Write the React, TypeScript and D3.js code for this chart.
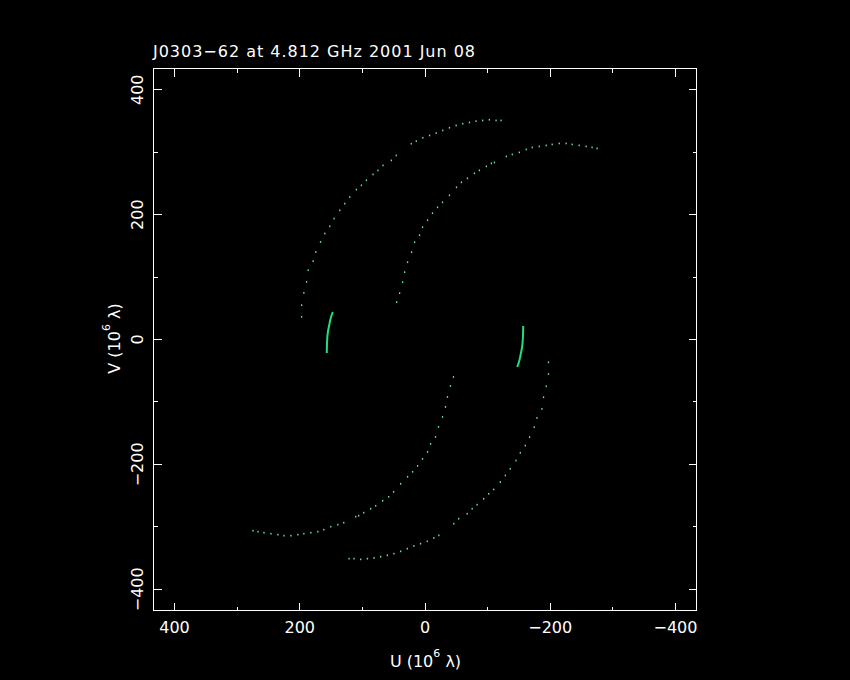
import React from 'react';
import * as d3 from 'd3';

const W = 850;
const H = 680;

// Title and axis labels
const TITLE = 'J0303\u221262 at 4.812 GHz 2001 Jun 08';
const X_LABEL_MAIN = 'U (10';
const Y_LABEL_MAIN = 'V (10';
const LABEL_SUP = '6';
const LABEL_TAIL = ' \u03bb)';

// Axis ticks (10^6 lambda)
const majorTicks = [-400, -200, 0, 200, 400];
const minorTicks = [-300, -100, 100, 300];

// Track A (outer arc, upper-left) : [u, v] in 10^6 lambda
const trackA: [number, number][] = [
  [197.1, 36.4], [197.1, 55.1], [193.5, 74.8], [189.2, 92.4], [186.6, 111.1],
  [178.7, 125.5], [174.4, 140.3], [166.9, 156.3], [160.0, 169.8], [152.1, 181.4],
  [145.2, 193.7], [136.1, 207.0], [128.2, 217.7], [120.2, 228.3], [109.6, 240.1],
  [101.6, 247.0], [93.6, 255.0], [83.1, 264.5], [75.2, 270.9], [67.2, 278.9],
  [53.8, 286.9], [45.9, 294.9], [22.0, 313.6], [14.0, 317.8], [3.5, 323.2],
  [-7.2, 326.9], [-17.8, 330.6], [-28.3, 334.9], [-39.0, 339.2], [-49.7, 342.9],
  [-60.2, 345.6], [-70.9, 347.7], [-81.5, 349.7], [-92.0, 350.9], [-102.7, 352.0],
  [-113.4, 350.9], [-121.3, 350.9],
];

// Track B (inner arc, upper-right)
const trackB: [number, number][] = [
  [45.4, 59.9], [40.6, 74.3], [35.8, 91.9], [32.6, 107.9], [27.9, 123.9],
  [21.5, 139.9], [16.7, 155.9], [8.8, 167.1], [4.0, 179.9], [-4.0, 191.1],
  [-11.9, 202.3], [-19.9, 211.8], [-27.9, 219.8], [-39.0, 231.0], [-50.2, 243.8],
  [-58.1, 251.8], [-67.7, 258.2], [-78.8, 266.2], [-86.8, 270.9], [-97.9, 277.3],
  [-105.9, 282.1], [-110.7, 283.7], [-129.8, 293.3], [-139.3, 296.5], [-150.5, 299.7],
  [-161.6, 304.5], [-171.2, 307.7], [-182.3, 309.3], [-193.5, 310.9], [-203.0, 312.5],
  [-214.2, 314.1], [-225.3, 314.1], [-234.9, 312.5], [-246.0, 310.9], [-257.2, 309.3],
  [-266.7, 307.7], [-274.7, 306.1],
];

// Short densely sampled arc (left)
const denseArc: [number, number][] = [
  [147.3, 44.0], [150.5, 34.4], [152.9, 23.2], [155.3, 10.4], [156.4, -4.0], [156.8, -21.6],
];

const conj = (pts: [number, number][]) => pts.map(([u, v]) => [-u, -v] as [number, number]);

const FRAME = { left: 153.5, right: 696.5, top: 68.5, bottom: 610.5 };

export default function App() {
  const x = d3.scaleLinear().domain([433.5, -433.5]).range([FRAME.left, FRAME.right]);
  const y = d3.scaleLinear().domain([434, -434]).range([FRAME.top, FRAME.bottom]);

  const dotTracks = [trackA, trackB, conj(trackA), conj(trackB)];
  const solidArcs = [denseArc, conj(denseArc)];
  const line = d3.line<[number, number]>().x((d) => x(d[0])).y((d) => y(d[1])).curve(d3.curveCatmullRom);

  const fmt = (v: number) => (v < 0 ? '\u2212' + Math.abs(v) : String(v));
  const font = "'DejaVu Sans', sans-serif";
  const MAJ = 8;
  const MIN = 4;

  const ticks: React.ReactNode[] = [];
  const addTicks = (vals: number[], len: number, key: string) => {
    vals.forEach((t) => {
      const px = x(t);
      const py = y(t);
      ticks.push(
        <g key={key + t}>
          <line x1={px} x2={px} y1={FRAME.bottom} y2={FRAME.bottom - len} />
          <line x1={px} x2={px} y1={FRAME.top} y2={FRAME.top + len} />
          <line y1={py} y2={py} x1={FRAME.left} x2={FRAME.left + len} />
          <line y1={py} y2={py} x1={FRAME.right} x2={FRAME.right - len} />
        </g>
      );
    });
  };
  addTicks(majorTicks, MAJ, 'M');
  addTicks(minorTicks, MIN, 'm');

  return (
    <svg width={W} height={H} style={{ position: 'absolute', left: 0, top: 0, display: 'block' }}>
      <rect x={0} y={0} width={W} height={H} fill="#000" />
      <g stroke="#fff" strokeWidth={1} fill="none" shapeRendering="crispEdges">
        <rect x={FRAME.left} y={FRAME.top} width={FRAME.right - FRAME.left} height={FRAME.bottom - FRAME.top} />
        {ticks}
      </g>
      <g fill="#fff" fontFamily={font} fontSize={16}>
        <text x={153} y={57} textLength={322}>{TITLE}</text>
        {majorTicks.map((t) => (
          <text key={'xl' + t} x={x(t)} y={633} textAnchor="middle">{fmt(t)}</text>
        ))}
        {majorTicks.map((t) => (
          <text key={'yl' + t} transform={`translate(142.5,${y(t)}) rotate(-90)`} textAnchor="middle">{fmt(t)}</text>
        ))}
        <text x={425.5} y={666.5} textAnchor="middle">
          {X_LABEL_MAIN}
          <tspan fontSize={11} dy={-10}>{LABEL_SUP}</tspan>
          <tspan dy={10}>{LABEL_TAIL}</tspan>
        </text>
        <text transform={`translate(119.5,338.5) rotate(-90)`} textAnchor="middle">
          {Y_LABEL_MAIN}
          <tspan fontSize={11} dy={-10}>{LABEL_SUP}</tspan>
          <tspan dy={10}>{LABEL_TAIL}</tspan>
        </text>
      </g>
      <g fill="#6ee6b4">
        {dotTracks.map((tr, i) =>
          tr.map((d, j) => (
            <rect key={`d${i}-${j}`} x={x(d[0]) - 0.6} y={y(d[1]) - 0.8} width={1.3} height={1.7} />
          ))
        )}
      </g>
      <g fill="none" stroke="#22e07c" strokeWidth={2}>
        {solidArcs.map((a, i) => (
          <path key={'s' + i} d={line(a) || ''} />
        ))}
      </g>
    </svg>
  );
}
